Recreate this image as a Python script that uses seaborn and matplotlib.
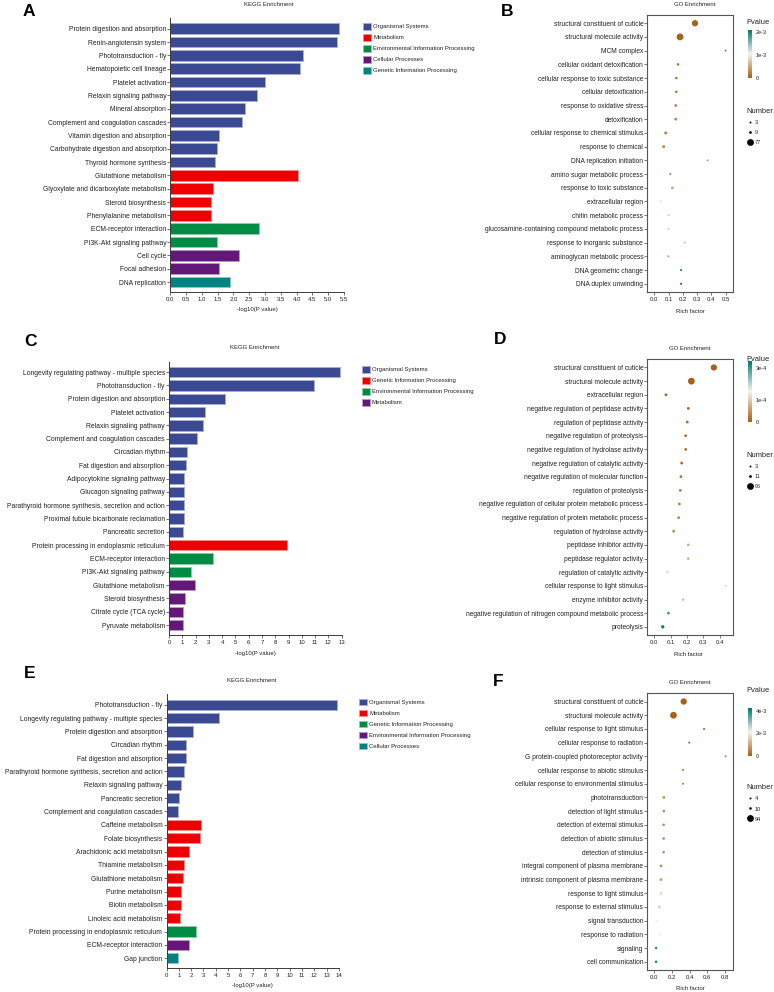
import numpy as np
import pandas as pd
import matplotlib
matplotlib.use("Agg")
import matplotlib.pyplot as plt
import matplotlib.patches as mpatches
from matplotlib.lines import Line2D
from matplotlib.cm import ScalarMappable
from matplotlib.colors import LinearSegmentedColormap, Normalize, to_rgb
import seaborn as sns

# ---------------- data ----------------
OS = "Organismal Systems"
MET = "Metabolism"
EIP = "Environmental Information Processing"
CP = "Cellular Processes"
GIP = "Genetic Information Processing"

# Panel A (KEGG)
a_terms = [
    "Protein digestion and absorption", "Renin-angiotensin system",
    "Phototransduction - fly", "Hematopoietic cell lineage", "Platelet activation",
    "Relaxin signaling pathway", "Mineral absorption",
    "Complement and coagulation cascades", "Vitamin digestion and absorption",
    "Carbohydrate digestion and absorption", "Thyroid hormone synthesis",
    "Glutathione metabolism", "Glyoxylate and dicarboxylate metabolism",
    "Steroid biosynthesis", "Phenylalanine metabolism", "ECM-receptor interaction",
    "PI3K-Akt signaling pathway", "Cell cycle", "Focal adhesion", "DNA replication",
]
a_values = [5.33, 5.29, 4.19, 4.10, 2.99, 2.75, 2.38, 2.27, 1.54, 1.49, 1.41,
            4.05, 1.36, 1.28, 1.28, 2.81, 1.49, 2.19, 1.55, 1.90]
a_types = [OS] * 11 + [MET] * 4 + [EIP] * 2 + [CP] * 2 + [GIP]
a_order = [OS, MET, EIP, CP, GIP]

# Panel C (KEGG)
c_terms = [
    "Longevity regulating pathway - multiple species", "Phototransduction - fly",
    "Protein digestion and absorption", "Platelet activation",
    "Relaxin signaling pathway", "Complement and coagulation cascades",
    "Circadian rhythm", "Fat digestion and absorption",
    "Adipocytokine signaling pathway", "Glucagon signaling pathway",
    "Parathyroid hormone synthesis, secretion and action",
    "Proximal tubule bicarbonate reclamation", "Pancreatic secretion",
    "Protein processing in endoplasmic reticulum", "ECM-receptor interaction",
    "PI3K-Akt signaling pathway", "Glutathione metabolism", "Steroid biosynthesis",
    "Citrate cycle (TCA cycle)", "Pyruvate metabolism",
]
c_values = [12.87, 10.94, 4.24, 2.74, 2.53, 2.13, 1.36, 1.25, 1.15, 1.13, 1.13,
            1.10, 1.03, 8.88, 3.29, 1.66, 1.93, 1.20, 1.08, 1.05]
c_types = [OS] * 13 + [GIP] + [EIP] * 2 + [MET] * 4
c_order = [OS, GIP, EIP, MET]

# Panel E (KEGG)
e_terms = [
    "Phototransduction - fly", "Longevity regulating pathway - multiple species",
    "Protein digestion and absorption", "Circadian rhythm",
    "Fat digestion and absorption",
    "Parathyroid hormone synthesis, secretion and action",
    "Relaxin signaling pathway", "Pancreatic secretion",
    "Complement and coagulation cascades", "Caffeine metabolism",
    "Folate biosynthesis", "Arachidonic acid metabolism", "Thiamine metabolism",
    "Glutathione metabolism", "Purine metabolism", "Biotin metabolism",
    "Linoleic acid metabolism", "Protein processing in endoplasmic reticulum",
    "ECM-receptor interaction", "Gap junction",
]
e_values = [13.87, 4.25, 2.15, 1.59, 1.59, 1.45, 1.21, 1.05, 0.92, 2.77, 2.72,
            1.86, 1.45, 1.35, 1.21, 1.18, 1.08, 2.37, 1.83, 0.94]
e_types = [OS] * 9 + [MET] * 8 + [GIP] + [EIP] + [CP]
e_order = [OS, MET, GIP, EIP, CP]

# Panel B (GO)
b_terms = [
    "structural constituent of cuticle", "structural molecule activity",
    "MCM complex", "cellular oxidant detoxification",
    "cellular response to toxic substance", "cellular detoxification",
    "response to oxidative stress", "detoxification",
    "cellular response to chemical stimulus", "response to chemical",
    "DNA replication initiation", "amino sugar metabolic process",
    "response to toxic substance", "extracellular region",
    "chitin metabolic process", "glucosamine-containing compound metabolic process",
    "response to inorganic substance", "aminoglycan metabolic process",
    "DNA geometric change", "DNA duplex unwinding",
]
b_rich = [0.285, 0.18, 0.50, 0.166, 0.154, 0.154, 0.15, 0.15, 0.079, 0.065,
          0.374, 0.112, 0.126, 0.044, 0.10, 0.10, 0.213, 0.098, 0.187, 0.187]
b_pvalue = [1e-12, 1e-10, 1e-4, 1e-4, 1.5e-4, 1.5e-4, 2e-4, 2e-4, 2.5e-4, 3e-4,
            3.5e-4, 4e-4, 4.5e-4, 1.0e-3, 1.25e-3, 1.25e-3, 1.4e-3, 1.5e-3,
            2.0e-3, 2.05e-3]
b_count = [65, 77, 3, 7, 8, 8, 9, 9, 12, 13, 3, 6, 9, 9, 5, 5, 3, 5, 4, 4]
b_legend = [3, 9, 77]

# Panel D (GO)
d_terms = [
    "structural constituent of cuticle", "structural molecule activity",
    "extracellular region", "negative regulation of peptidase activity",
    "regulation of peptidase activity", "negative regulation of proteolysis",
    "negative regulation of hydrolase activity",
    "negative regulation of catalytic activity",
    "negative regulation of molecular function", "regulation of proteolysis",
    "negative regulation of cellular protein metabolic process",
    "negative regulation of protein metabolic process",
    "regulation of hydrolase activity", "peptidase inhibitor activity",
    "peptidase regulator activity", "regulation of catalytic activity",
    "cellular response to light stimulus", "enzyme inhibitor activity",
    "negative regulation of nitrogen compound metabolic process", "proteolysis",
]
d_rich = [0.365, 0.227, 0.071, 0.208, 0.202, 0.192, 0.192, 0.167, 0.163, 0.159,
          0.153, 0.149, 0.118, 0.208, 0.208, 0.08, 0.437, 0.176, 0.086, 0.051]
d_pvalue = [1e-14, 1e-12, 1e-6, 5e-6, 8e-6, 1e-5, 1.2e-5, 1.5e-5, 2e-5, 2.5e-5,
            3e-5, 3.5e-5, 4e-5, 8e-5, 8.5e-5, 1.4e-4, 1.9e-4, 2.1e-4, 2.8e-4,
            3.1e-4]
d_count = [80, 96, 12, 11, 11, 11, 11, 12, 12, 11, 11, 11, 12, 10, 10, 14, 3,
           10, 12, 20]
d_legend = [3, 11, 96]

# Panel F (GO)
f_terms = [
    "structural constituent of cuticle", "structural molecule activity",
    "cellular response to light stimulus", "cellular response to radiation",
    "G protein-coupled photoreceptor activity",
    "cellular response to abiotic stimulus",
    "cellular response to environmental stimulus", "phototransduction",
    "detection of light stimulus", "detection of external stimulus",
    "detection of abiotic stimulus", "detection of stimulus",
    "integral component of plasma membrane",
    "intrinsic component of plasma membrane", "response to light stimulus",
    "response to external stimulus", "signal transduction",
    "response to radiation", "signaling", "cell communication",
]
f_rich = [0.333, 0.217, 0.565, 0.396, 0.81, 0.325, 0.325, 0.108, 0.108, 0.105,
          0.105, 0.105, 0.075, 0.075, 0.075, 0.056, 0.022, 0.067, 0.019, 0.019]
f_pvalue = [1e-15, 1e-13, 1e-4, 2e-4, 3e-4, 4e-4, 4e-4, 5e-4, 5e-4, 5.5e-4,
            5.5e-4, 6e-4, 7e-4, 7.5e-4, 1.6e-3, 1.5e-3, 2.0e-3, 2.05e-3,
            3.8e-3, 3.9e-3]
f_count = [80, 94, 5, 5, 4, 5, 5, 10, 10, 10, 10, 10, 12, 12, 10, 12, 8, 10,
           10, 10]
f_legend = [4, 10, 94]

palette_colors = ["#3B4992", "#EE0000", "#008B45", "#631879", "#008280"]
go_cmap = LinearSegmentedColormap.from_list("pv", ["#A6611A", "#F7F3EC", "#01796A"])

# ---------------- layout helpers ----------------
W, H = 774, 992


def rect(left, top, right, bottom):
    return [left / W, 1 - bottom / H, (right - left) / W, (bottom - top) / H]


def ftext(x, y, s, **kw):
    fig.text(x / W, 1 - y / H, s, **kw)


def plot_kegg(box, terms, values, types, order, xmax, xticks, fmt, legend_xy):
    ax = fig.add_axes(rect(*box))
    df = pd.DataFrame({"term": terms, "value": values, "type": types})
    pal = dict(zip(order, palette_colors))
    sns.barplot(data=df, x="value", y="term", hue="type", hue_order=order,
                palette=pal, dodge=False, width=0.78, orient="h",
                legend=False, saturation=1, ax=ax)
    for p in ax.patches:
        fc = np.array(to_rgb(p.get_facecolor()))
        p.set_edgecolor(fc * 0.45 + 0.55)
        p.set_linewidth(0.7)
    ax.set_xlim(0, xmax)
    ax.set_xticks(xticks)
    ax.set_xticklabels([fmt.format(t) for t in xticks])
    ax.set_ylim(19.75, -0.78)
    ax.set_xlabel("")
    ax.set_ylabel("")
    sns.despine(ax=ax)
    for s in ["left", "bottom"]:
        ax.spines[s].set_color("#3a3a3a")
        ax.spines[s].set_linewidth(0.7)
    ax.tick_params(axis="y", labelsize=4.85, length=2, width=0.5, pad=1,
                   color="#3a3a3a")
    ax.tick_params(axis="x", labelsize=4.3, length=2, width=0.5, pad=1.5,
                   color="#3a3a3a")
    handles = [mpatches.Patch(facecolor=pal[k],
                              edgecolor=np.array(to_rgb(pal[k])) * 0.45 + 0.55,
                              linewidth=0.6, label=k) for k in order]
    fig.legend(handles=handles, loc="upper left",
               bbox_to_anchor=(legend_xy[0] / W, 1 - legend_xy[1] / H),
               bbox_transform=fig.transFigure, frameon=False, fontsize=4.3,
               handlelength=1.35, handleheight=1.35, handletextpad=0.35,
               labelspacing=0.72, borderpad=0, borderaxespad=0)
    return ax


def plot_go(box, terms, rich, pvals, counts, leg_counts, vmax, cticks,
            ctlabels, xticks, fmt, cbar_box, pv_y, num_y):
    ax = fig.add_axes(rect(*box))
    df = pd.DataFrame({"term": terms, "rich": rich, "pvalue": pvals,
                       "count": counts})
    norm = Normalize(0, vmax)
    nmin, nmax = min(leg_counts), max(leg_counts)
    smin, smax = 2.0, 24.0
    sns.scatterplot(data=df, x="rich", y="term", hue="pvalue", hue_norm=norm,
                    palette=go_cmap, size="count", sizes=(smin, smax),
                    size_norm=(nmin, nmax), legend=False, linewidth=0, ax=ax)
    xmax = max(rich)
    ax.set_xlim(-0.1 * xmax, 1.1 * xmax)
    ax.set_ylim(19.6, -0.6)
    ax.set_xticks(xticks)
    ax.set_xticklabels([fmt.format(t) for t in xticks])
    ax.set_xlabel("")
    ax.set_ylabel("")
    for s in ax.spines.values():
        s.set_color("#555555")
        s.set_linewidth(0.8)
    ax.tick_params(axis="y", labelsize=4.75, length=2, width=0.5, pad=1,
                   color="#444444")
    ax.tick_params(axis="x", labelsize=4.3, length=2, width=0.5, pad=1.5,
                   color="#444444")

    cax = fig.add_axes(rect(*cbar_box))
    cb = fig.colorbar(ScalarMappable(norm=norm, cmap=go_cmap), cax=cax)
    cb.outline.set_visible(False)
    cb.set_ticks(cticks)
    cb.set_ticklabels(ctlabels)
    cax.tick_params(length=1.3, width=0.5, color="white", pad=1, labelsize=4)
    ftext(746.5, pv_y, "Pvalue", fontsize=5.4, va="center", ha="left")

    def area(n):
        return smin + (n - nmin) / (nmax - nmin) * (smax - smin)

    handles = [Line2D([], [], linestyle="", marker="o", color="black",
                      markersize=np.sqrt(area(n)), markeredgewidth=0,
                      label=str(n)) for n in leg_counts]
    fig.legend(handles=handles, title="Number", loc="upper left",
               bbox_to_anchor=(746.5 / W, 1 - (num_y - 4) / H),
               bbox_transform=fig.transFigure, frameon=False,
               fontsize=4, title_fontsize=5.4, alignment="left",
               handlelength=1.2, handleheight=1.0, handletextpad=0.3,
               labelspacing=0.85, borderpad=0, borderaxespad=0)
    return ax


# ---------------- figure ----------------
sns.set_style("ticks")
plt.rcParams["font.family"] = ["Liberation Sans", "DejaVu Sans"]
plt.rcParams["text.color"] = "#222222"
plt.rcParams["xtick.color"] = "#222222"
plt.rcParams["ytick.color"] = "#222222"

fig = plt.figure(figsize=(W / 100, H / 100), dpi=100)

# KEGG bar panels
plot_kegg((170.3, 18.3, 344, 292), a_terms, a_values, a_types, a_order, 5.5,
          list(np.arange(0, 5.51, 0.5)), "{:.1f}", (363, 23))
plot_kegg((169, 361.7, 341.7, 635), c_terms, c_values, c_types, c_order, 13,
          list(range(0, 14)), "{:d}", (361.7, 366))
plot_kegg((166.5, 694.3, 339, 968.3), e_terms, e_values, e_types, e_order, 14,
          list(range(0, 15)), "{:d}", (359.3, 698.5))

# GO dot panels
plot_go((647.3, 15, 732.7, 292), b_terms, b_rich, b_pvalue, b_count, b_legend,
        2.1e-3, [0, 1e-3, 2e-3], ["0", "1e-3", "2e-3"],
        [0, 0.1, 0.2, 0.3, 0.4, 0.5], "{:.1f}", (747.7, 30, 752.3, 77.7),
        22.7, 111.7)
plot_go((647.3, 359.3, 732.7, 635), d_terms, d_rich, d_pvalue, d_count,
        d_legend, 3.2e-4, [0, 1.15e-4, 2.8e-4], ["0", "1e-4", "3e-4"],
        [0, 0.1, 0.2, 0.3, 0.4], "{:.1f}", (747.7, 360.7, 752.3, 421.7),
        359.3, 456)
plot_go((647.3, 693.3, 732.7, 970), f_terms, f_rich, f_pvalue, f_count,
        f_legend, 4.2e-3, [0, 2e-3, 4e-3], ["0", "2e-3", "4e-3"],
        [0, 0.2, 0.4, 0.6, 0.8], "{:.1f}", (747.7, 708.3, 752.3, 756),
        690.7, 788.3)

# titles, axis labels and panel letters
for x, y in [(269, 4.5), (255, 347.7), (252, 680)]:
    ftext(x, y, "KEGG Enrichment", fontsize=4.3, ha="center", va="center")
for x, y in [(257, 310), (255, 653.3), (252, 986)]:
    ftext(x, y, "-log10(P value)", fontsize=4.3, ha="center", va="center")
for x, y in [(695, 5), (690, 349), (690, 682.7)]:
    ftext(x, y, "GO Enrichment", fontsize=4.3, ha="center", va="center")
for x, y in [(690.7, 311.7), (688, 654), (690, 988.3)]:
    ftext(x, y, "Rich factor", fontsize=4.3, ha="center", va="center")
for x, y, s in [(23, 11, "A"), (501, 11, "B"), (24, 341, "C"), (494, 339, "D"),
                (24, 673, "E"), (493, 681, "F")]:
    ftext(x, y, s, fontsize=12.5, fontweight="bold", ha="left", va="center",
          color="black")

fig.savefig("out.png", dpi=100)
